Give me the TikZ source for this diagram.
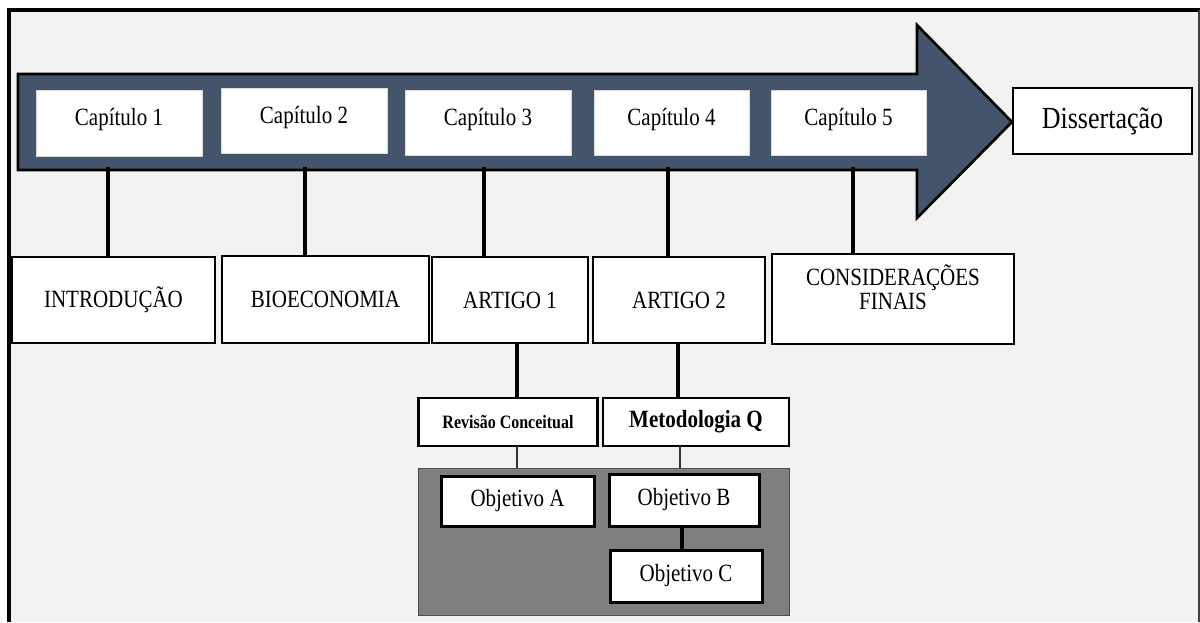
\documentclass[tikz,border=0pt]{standalone}
\usepackage{graphicx}
\usepackage{fontspec}
\setmainfont{Liberation Serif}
\newcommand{\tallt}[1]{\scalebox{1}[1.18]{#1}}
\definecolor{arrowblue}{HTML}{44546A}
\definecolor{bggray}{HTML}{F2F2F2}
\definecolor{panelgray}{HTML}{7F7F7F}
\tikzset{
  capbox/.style={rectangle, fill=white, draw=white!85!black, line width=0.6pt, inner sep=0pt, text height=17pt, text depth=12pt, font=\fontsize{21}{25}\selectfont},
  lowbox/.style={rectangle, fill=white, draw=black, line width=2.6pt, inner sep=0pt, align=center, font=\fontsize{21}{24}\selectfont},
  subbox/.style={rectangle, fill=white, draw=black, line width=2.6pt, inner sep=0pt, font=\bfseries},
  objbox/.style={rectangle, fill=white, draw=black, line width=3pt, inner sep=0pt, font=\fontsize{21}{25}\selectfont},
  conn/.style={draw=black, line width=3.5pt},
  thinconn/.style={draw=black!80, line width=1.2pt},
  panel/.style={rectangle, fill=panelgray, draw=black!70, line width=1pt, inner sep=0pt}
}
\begin{document}
\begin{tikzpicture}[x=1pt,y=-1pt]
\useasboundingbox (0,0) rectangle (1200,622);
% background frame
\fill[bggray] (9,10) rectangle (1199,622);
\draw[black, line width=4pt] (9,622) -- (9,10) -- (1200,10);
\draw[black!75, line width=1.5pt] (1199,10) -- (1199,622);
% big arrow
\draw[fill=arrowblue, draw=black, line width=2.6pt, line join=miter]
  (18,74) -- (917,74) -- (917,25) -- (1012,122) -- (917,218) -- (917,170) -- (18,170) -- cycle;
% chapter boxes
\node[capbox, minimum width=166, minimum height=66] (cap1) at (119,123) {\tallt{Capítulo 1}};
\node[capbox, minimum width=166, minimum height=65] (cap2) at (304,120.5) {\tallt{Capítulo 2}};
\node[capbox, minimum width=166, minimum height=65] (cap3) at (488,122.5) {\tallt{Capítulo 3}};
\node[capbox, minimum width=155, minimum height=65] (cap4) at (671.5,122.5) {\tallt{Capítulo 4}};
\node[capbox, minimum width=155, minimum height=65] (cap5) at (848.5,122.5) {\tallt{Capítulo 5}};
\node[rectangle, fill=white, draw=black, line width=2pt, minimum width=179, minimum height=66, inner sep=0pt, font=\fontsize{26}{30}\selectfont] (diss) at (1102.5,121) {\tallt{Dissertação}};
% lower boxes
\node[lowbox, minimum width=203, minimum height=86] (intro) at (113.5,300) {\tallt{INTRODUÇÃO}};
\node[lowbox, minimum width=207, minimum height=87] (bio) at (325.5,299.5) {\tallt{BIOECONOMIA}};
\node[lowbox, minimum width=156, minimum height=86] (art1) at (510,300) {\tallt{ARTIGO 1}};
\node[lowbox, minimum width=172, minimum height=86] (art2) at (679,300) {\tallt{ARTIGO 2}};
\node[lowbox, minimum width=242, minimum height=90, text depth=0pt] (cons) at (893,299) {\tallt{CONSIDERAÇÕES}\\\tallt{FINAIS}\\\strut};
% connector start points on the arrow
\coordinate (l1) at (108,167);
\coordinate (l2) at (305,167);
\coordinate (l3) at (484,167);
\coordinate (l4) at (668,167);
\coordinate (l5) at (853,167);
\draw[conn] (l1) -- (l1 |- intro.north);
\draw[conn] (l2) -- (l2 |- bio.north);
\draw[conn] (l3) -- (l3 |- art1.north);
\draw[conn] (l4) -- (l4 |- art2.north);
\draw[conn] (l5) -- (l5 |- cons.north);
% sub boxes
\node[subbox, minimum width=179, minimum height=48, font=\bfseries\fontsize{16}{19}\selectfont] (rev) at (508,422) {\tallt{Revisão Conceitual}};
\node[subbox, minimum width=186, minimum height=48, font=\bfseries\fontsize{21}{25}\selectfont] (met) at (696,422) {\tallt{Metodologia Q}};
\coordinate (a1) at (517,343);
\coordinate (a2) at (678,343);
\draw[conn] (a1) -- (a1 |- rev.north);
\draw[conn] (a2) -- (a2 |- met.north);
% panel
\node[panel, minimum width=371, minimum height=147] (panel) at (603.5,541.5) {};
\coordinate (r1) at (517,446);
\coordinate (m1) at (680,446);
\draw[thinconn] (r1) -- (r1 |- panel.north);
\draw[thinconn] (m1) -- (m1 |- panel.north);
% objectives
\node[objbox, minimum width=153, minimum height=50] (oa) at (517.5,501) {\tallt{Objetivo A}};
\node[objbox, minimum width=150, minimum height=52] (ob) at (684,500) {\tallt{Objetivo B}};
\node[objbox, minimum width=152, minimum height=52] (oc) at (686,576) {\tallt{Objetivo C}};
\coordinate (b1) at (682,526);
\draw[conn] (b1) -- (b1 |- oc.north);
\end{tikzpicture}
\end{document}
